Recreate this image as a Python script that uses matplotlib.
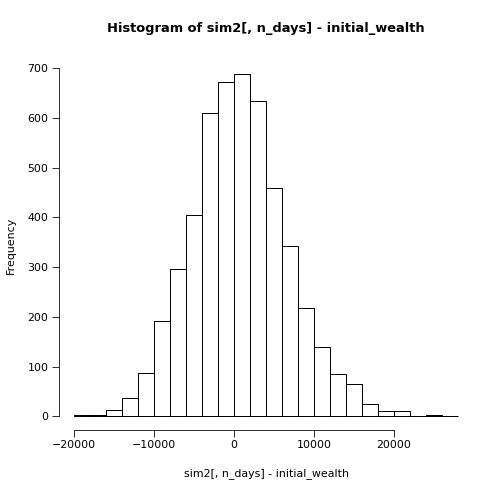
import numpy as np
import matplotlib
matplotlib.use("Agg")
import matplotlib.pyplot as plt

# bin edges every 2000 from -20000 to 28000
bin_edges = list(range(-20000, 28001, 2000))
counts = [2, 3, 12, 36, 88, 192, 297, 404, 611, 673, 689, 634, 460,
          342, 218, 140, 85, 64, 25, 10, 10, 0, 3, 1]

fig = plt.figure(figsize=(7, 7), dpi=72)
ax = fig.add_axes([59/504, 1-430/504, 414/504, 370/504])

lefts = np.array(bin_edges[:-1])
widths = np.diff(bin_edges)
ax.bar(lefts, counts, width=widths, align="edge", facecolor="white",
       edgecolor="black", linewidth=1)

ax.set_xlim(-21920, 29920)
ax.set_ylim(-27.6, 716.6)
for s in ax.spines.values():
    s.set_visible(False)
ax.set_xticks([-20000, -10000, 0, 10000, 20000])
ax.set_yticks(range(0, 701, 100))
ax.tick_params(labelsize=11, length=7, direction="out")
plt.setp(ax.get_yticklabels(), rotation=90, va="center")
ax.spines["bottom"].set_visible(True)
ax.spines["bottom"].set_bounds(-20000, 20000)
ax.spines["bottom"].set_position(("outward", 0))
ax.spines["left"].set_visible(True)
ax.spines["left"].set_bounds(0, 700)

# move axis lines outward like R
ax.spines["bottom"].set_position(("data", -27.6 - 0))
ax.spines["left"].set_position(("data", -21920))

ax.set_xlabel("sim2[, n_days] - initial_wealth", fontsize=11, labelpad=18)
ax.set_ylabel("Frequency", fontsize=11, labelpad=12)
ax.set_title("Histogram of sim2[, n_days] - initial_wealth", fontsize=13,
             fontweight="bold", pad=28)

fig.savefig("out.png", dpi=72)
